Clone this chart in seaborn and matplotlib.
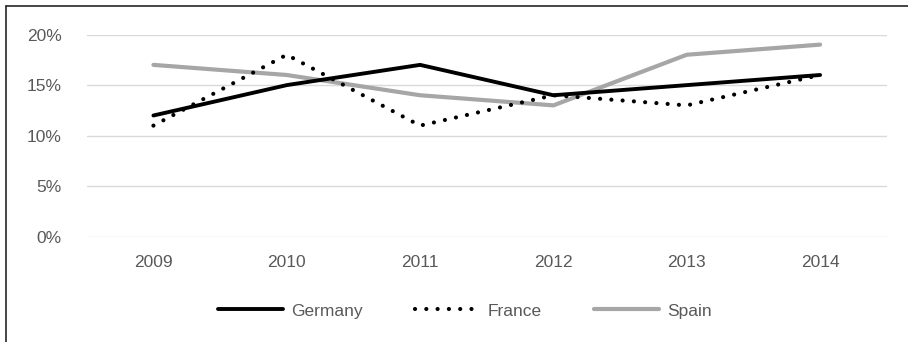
import matplotlib
matplotlib.use("Agg")
import matplotlib.pyplot as plt
import seaborn as sns
import pandas as pd
from matplotlib.lines import Line2D
from matplotlib.ticker import FuncFormatter

years = ["2009", "2010", "2011", "2012", "2013", "2014"]
germany = [12, 15, 17, 14, 15, 16]
france = [11, 18, 11, 14, 13, 16]
spain = [17, 16, 14, 13, 18, 19]

sns.set_theme(style="white")
plt.rcParams["font.family"] = ["Liberation Sans", "DejaVu Sans"]

fig = plt.figure(figsize=(9.08, 3.42), dpi=100)
ax = fig.add_axes([86.75 / 908, 1 - 237 / 342, 800 / 908, 202.5 / 342])

df = pd.DataFrame({"Year": years, "Germany": germany, "France": france, "Spain": spain})

styles = {
    "Germany": dict(color="black", linewidth=2.8, solid_capstyle="round", solid_joinstyle="round"),
    "France": dict(color="black", linewidth=3.0, linestyle=(0, (0.01, 2.7)), dash_capstyle="round"),
    "Spain": dict(color="#a6a6a6", linewidth=3.0, solid_capstyle="round", solid_joinstyle="round"),
}
order = ["Germany", "France", "Spain"]
z = {"Spain": 2, "Germany": 3, "France": 4}
for name in order:
    sns.lineplot(data=df, x="Year", y=name, ax=ax, zorder=z[name], **styles[name])

ax.set_xlim(-0.5, 5.5)
ax.set_ylim(0, 20)
ax.set_yticks([0, 5, 10, 15, 20])
ax.yaxis.set_major_formatter(FuncFormatter(lambda v, _: f"{v:.0f}%"))
ax.grid(axis="y", color="#d9d9d9", linewidth=1)
ax.grid(axis="x", visible=False)
ax.set_axisbelow(True)
for s in ax.spines.values():
    s.set_visible(False)
ax.set_xlabel("")
ax.set_ylabel("")
ax.tick_params(axis="both", length=0, labelsize=12.5, colors="#595959")
ax.tick_params(axis="y", pad=18)
ax.tick_params(axis="x", pad=13)

handles = [Line2D([0], [0], **styles[n]) for n in order]
fig.legend(handles, order, loc="center", bbox_to_anchor=(465 / 908, 1 - 311 / 342),
           ncol=3, frameon=False, fontsize=12.5, labelcolor="#595959",
           handlelength=3.75, handletextpad=0.45, columnspacing=3.0)

# frame along the top and left edges
fig.add_artist(Line2D([5.5 / 908, 5.5 / 908], [0, 1 - 6 / 342], transform=fig.transFigure,
                      color="#262626", linewidth=1.2))
fig.add_artist(Line2D([5.5 / 908, 1], [1 - 6 / 342, 1 - 6 / 342], transform=fig.transFigure,
                      color="#262626", linewidth=1.2))

fig.savefig("out.png", dpi=100)
